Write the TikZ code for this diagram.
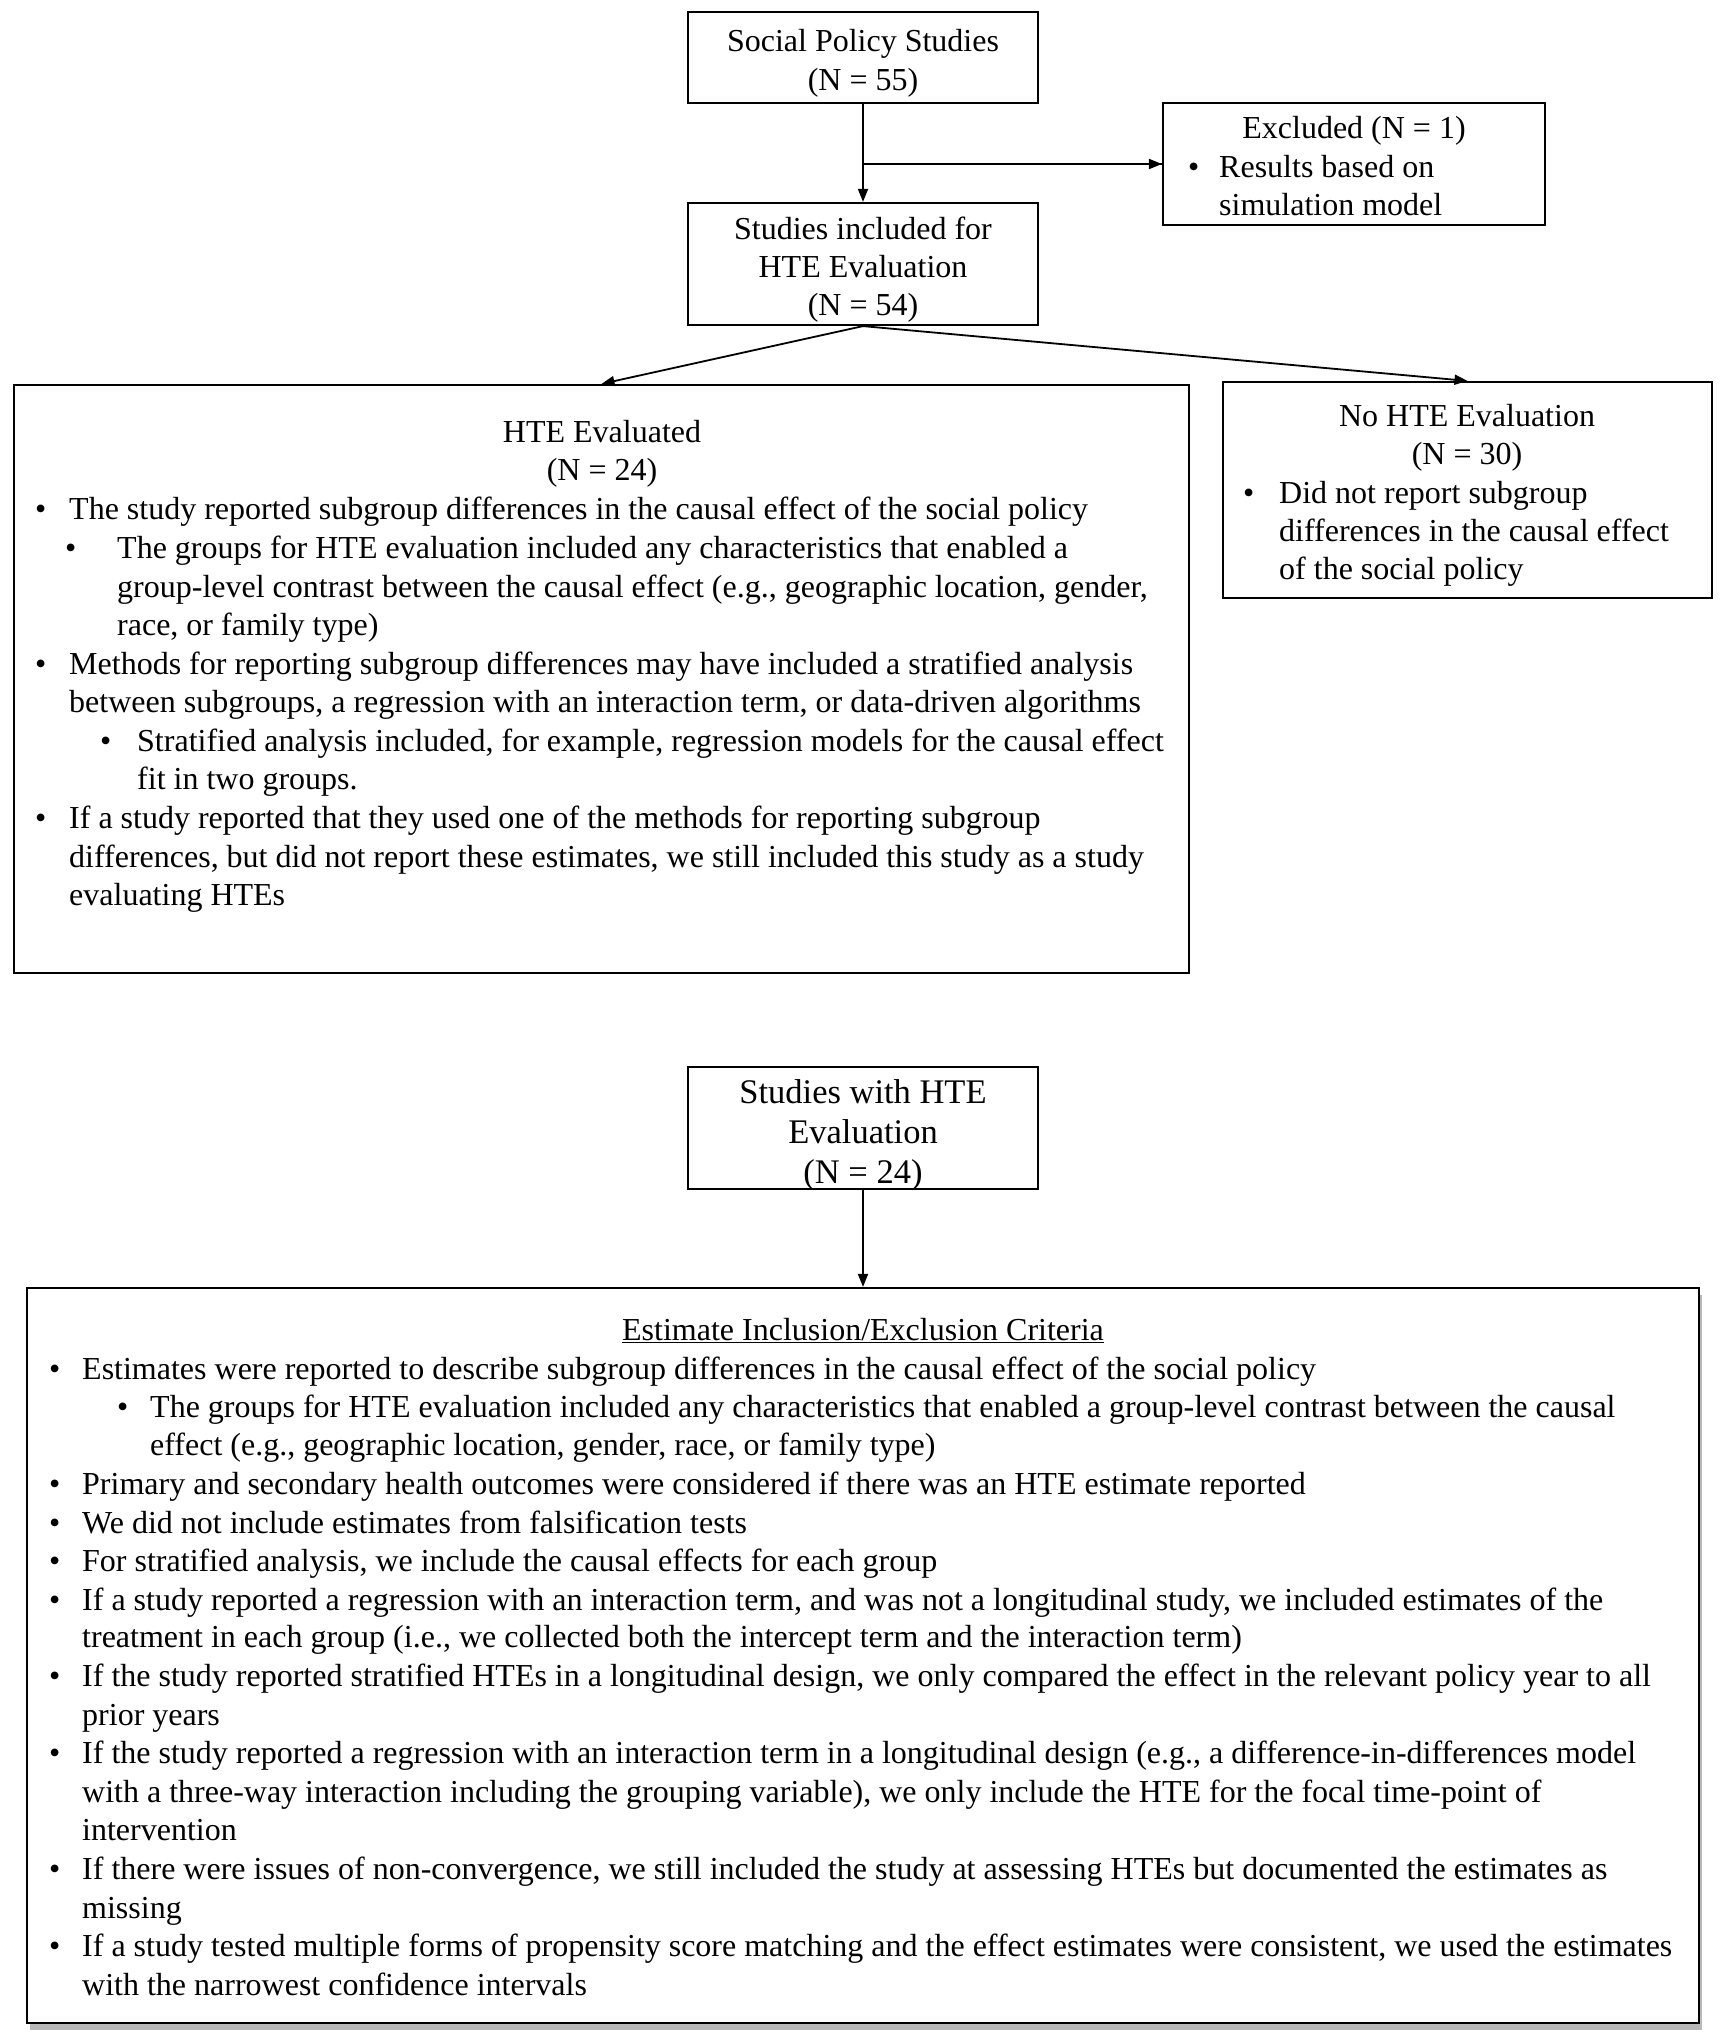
\documentclass[tikz,border=0pt]{standalone}
\usepackage{fontspec}
\setmainfont{Liberation Serif}
\usetikzlibrary{arrows.meta,shadows}
\begin{document}
\begin{tikzpicture}[x=1pt,y=-1pt,
  box/.style={draw, line width=2.2pt, inner sep=0, fill=white},
  txt/.style={font=\fontsize{32}{38.5}\selectfont, inner sep=0, anchor=base west},
  ctr/.style={font=\fontsize{32}{38.5}\selectfont, inner sep=0, anchor=base},
  big/.style={font=\fontsize{34.5}{41}\selectfont, inner sep=0, anchor=base},
  conn/.style={line width=1.8pt, -{Triangle[length=13pt,width=10pt]}}]
\useasboundingbox (0,0) rectangle (1726,2040);

% boxes
\node[box, minimum width=350, minimum height=91] (social) at (863,57.5) {};
\node[box, minimum width=382, minimum height=122] (excl) at (1354,164) {};
\node[box, minimum width=350, minimum height=122] (incl) at (863,264) {};
\node[box, minimum width=1175, minimum height=588] (hte) at (601.5,679) {};
\node[box, minimum width=489, minimum height=216] (nohte) at (1467.5,490) {};
\node[box, minimum width=350, minimum height=122] (with) at (863,1128) {};
\node[box, minimum width=1672, minimum height=735, drop shadow={shadow xshift=3pt, shadow yshift=-7pt, opacity=0.55}] (crit) at (863,1655.5) {};

% connectors
\coordinate (j) at (863,164);
\draw[conn] (social.south) -- (incl.north);
\draw[line width=1.8pt] (j) -- (excl.west);
\draw[conn] (j) -- (excl.west);
\draw[conn] (incl.south) -- (hte.north);
\draw[conn] (incl.south) -- (nohte.north);
\draw[conn] (with.south) -- (crit.north);

% social
\node[ctr] (s1) at (863,51) {Social Policy Studies};
\node[ctr] (s2) at (863,90) {(N = 55)};
% excluded
\node[ctr] (e1) at (1354,138) {Excluded (N = 1)};
\node[txt] (eb) at (1188,177) {\textbullet};
\node[txt] (e2) at (1219,177) {Results based on};
\node[txt] (e3) at (1219,215) {simulation model};
% included
\node[ctr] (i1) at (863,239) {Studies included for};
\node[ctr] (i2) at (863,277) {HTE Evaluation};
\node[ctr] (i3) at (863,315) {(N = 54)};

% HTE evaluated
\node[ctr] (h0) at (602,442) {HTE Evaluated};
\node[ctr] (h00) at (602,480) {(N = 24)};
\node[txt] (hb1) at (35,519) {\textbullet};
\node[txt] (h1) at (69,519) {The study reported subgroup differences in the causal effect of the social policy};
\node[txt] (hb2) at (65,558) {\textbullet};
\node[txt] (h2) at (117,558) {The groups for HTE evaluation included any characteristics that enabled a};
\node[txt] (h3) at (117,597) {group-level contrast between the causal effect (e.g., geographic location, gender,};
\node[txt] (h4) at (117,635) {race, or family type)};
\node[txt] (hb3) at (35,674) {\textbullet};
\node[txt] (h5) at (69,674) {Methods for reporting subgroup differences may have included a stratified analysis};
\node[txt] (h6) at (69,712) {between subgroups, a regression with an interaction term, or data-driven algorithms};
\node[txt] (hb4) at (100,751) {\textbullet};
\node[txt] (h7) at (137,751) {Stratified analysis included, for example, regression models for the causal effect};
\node[txt] (h8) at (137,789) {fit in two groups.};
\node[txt] (hb5) at (35,828) {\textbullet};
\node[txt] (h9) at (69,828) {If a study reported that they used one of the methods for reporting subgroup};
\node[txt] (h10) at (69,867) {differences, but did not report these estimates, we still included this study as a study};
\node[txt] (h11) at (69,905) {evaluating HTEs};

% No HTE
\node[ctr] (n0) at (1467,426) {No HTE Evaluation};
\node[ctr] (n00) at (1467,464) {(N = 30)};
\node[txt] (nb) at (1243,503) {\textbullet};
\node[txt] (n1) at (1279,503) {Did not report subgroup};
\node[txt] (n2) at (1279,541) {differences in the causal effect};
\node[txt] (n3) at (1279,579) {of the social policy};

% with HTE
\node[big] (w1) at (863,1103) {Studies with HTE};
\node[big] (w2) at (863,1143) {Evaluation};
\node[big] (w3) at (863,1183) {(N = 24)};

% criteria
\node[ctr] (c0) at (863,1340) {\underline{Estimate Inclusion/Exclusion Criteria}};
\node[txt] (cb1) at (49,1379) {\textbullet};
\node[txt] (c1) at (82,1379) {Estimates were reported to describe subgroup differences in the causal effect of the social policy};
\node[txt] (cb2) at (117,1417) {\textbullet};
\node[txt] (c2) at (150,1417) {The groups for HTE evaluation included any characteristics that enabled a group-level contrast between the causal};
\node[txt] (c3) at (150,1455) {effect (e.g., geographic location, gender, race, or family type)};
\node[txt] (cb4) at (49,1494) {\textbullet};
\node[txt] (c4) at (82,1494) {Primary and secondary health outcomes were considered if there was an HTE estimate reported};
\node[txt] (cb5) at (49,1533) {\textbullet};
\node[txt] (c5) at (82,1533) {We did not include estimates from falsification tests};
\node[txt] (cb6) at (49,1571) {\textbullet};
\node[txt] (c6) at (82,1571) {For stratified analysis, we include the causal effects for each group};
\node[txt] (cb7) at (49,1610) {\textbullet};
\node[txt] (c7) at (82,1610) {If a study reported a regression with an interaction term, and was not a longitudinal study, we included estimates of the};
\node[txt] (c8) at (82,1647) {treatment in each group (i.e., we collected both the intercept term and the interaction term)};
\node[txt] (cb9) at (49,1686) {\textbullet};
\node[txt] (c9) at (82,1686) {If the study reported stratified HTEs in a longitudinal design, we only compared the effect in the relevant policy year to all};
\node[txt] (c10) at (82,1725) {prior years};
\node[txt] (cb11) at (49,1763) {\textbullet};
\node[txt] (c11) at (82,1763) {If the study reported a regression with an interaction term in a longitudinal design (e.g., a difference-in-differences model};
\node[txt] (c12) at (82,1802) {with a three-way interaction including the grouping variable), we only include the HTE for the focal time-point of};
\node[txt] (c13) at (82,1840) {intervention};
\node[txt] (cb14) at (49,1879) {\textbullet};
\node[txt] (c14) at (82,1879) {If there were issues of non-convergence, we still included the study at assessing HTEs but documented the estimates as};
\node[txt] (c15) at (82,1918) {missing};
\node[txt] (cb16) at (49,1956) {\textbullet};
\node[txt] (c16) at (82,1956) {If a study tested multiple forms of propensity score matching and the effect estimates were consistent, we used the estimates};
\node[txt] (c17) at (82,1995) {with the narrowest confidence intervals};
\end{tikzpicture}
\end{document}
